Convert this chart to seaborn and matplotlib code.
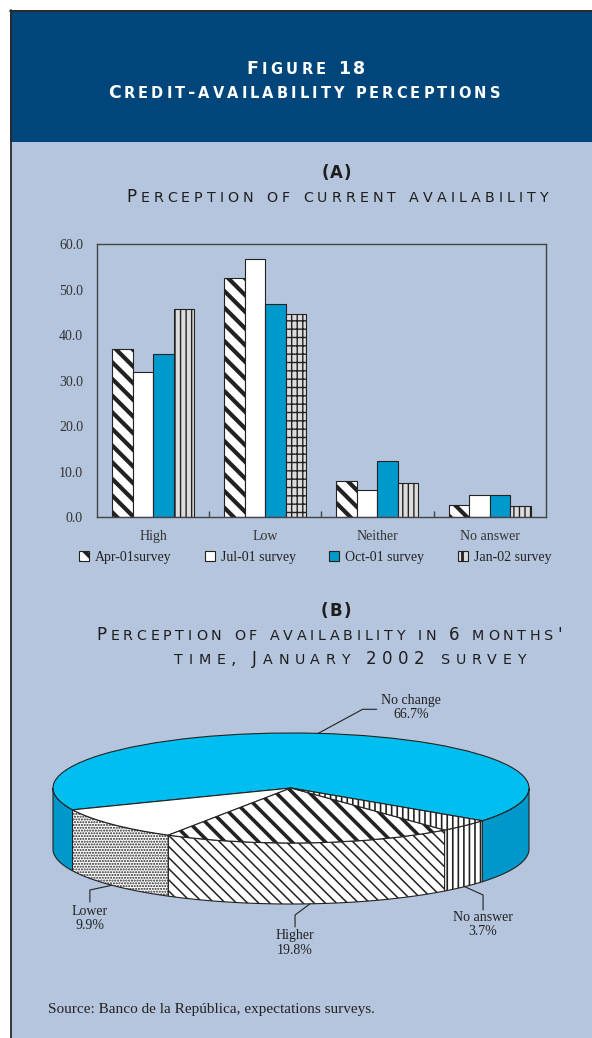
import numpy as np
import pandas as pd
import matplotlib
matplotlib.use("Agg")
import matplotlib.pyplot as plt
from matplotlib.patches import Rectangle, Polygon, Patch
from matplotlib.lines import Line2D
import seaborn as sns

# ---- data -------------------------------------------------------------
answers = ["High", "Low", "Neither", "No answer"]
surveys = ["Apr-01survey", "Jul-01 survey", "Oct-01 survey", "Jan-02 survey"]
apr_01 = [36.9, 52.7, 7.9, 2.6]
jul_01 = [32.0, 56.8, 6.1, 4.9]
oct_01 = [35.9, 46.8, 12.3, 4.9]
jan_02 = [45.7, 44.6, 7.5, 2.4]
y_ticks = [0, 10, 20, 30, 40, 50, 60]

outlook_labels = ["No change", "Lower", "Higher", "No answer"]
outlook_values = [66.7, 9.9, 19.8, 3.7]

# ---- styling ----------------------------------------------------------
BODY = "#B5C5DD"
HEADER = "#00467A"
INK = "#1E1E1E"
bar_face = ["white", "white", "#0099CC", "#DCDCDC"]
bar_hatch = ["\\\\", "", "", "|||"]
bar_hatch_lw = [3.0, 1.0, 1.0, 1.0]

pie_top_face = ["#00BFF0", "white", "white", "white"]
pie_top_hatch = [None, None, "\\\\", "|||"]
pie_top_hlw = [1.0, 1.0, 2.6, 1.2]
pie_side_face = ["#0098CB", "white", "white", "white"]
pie_side_hatch = [None, "......", "\\\\\\", "|||"]
pie_side_hlw = [1.0, 1.0, 1.1, 1.2]

sns.set_theme(style="white")
plt.rcParams["font.family"] = ["Liberation Serif", "DejaVu Serif"]
plt.rcParams["hatch.linewidth"] = 1.0

W, H = 592, 1038
fig = plt.figure(figsize=(W / 100, H / 100), dpi=100, facecolor="white")


def fx(px):
    return px / W


def fy(py):
    return 1 - py / H


def set_hlw(artist, lw):
    if hasattr(artist, "set_hatch_linewidth"):
        artist.set_hatch_linewidth(lw)


# ---- page frame ------------------------------------------------------
fig.add_artist(Rectangle((fx(10), 0), 1 - fx(10), fy(10), transform=fig.transFigure,
                         facecolor=BODY, edgecolor="none", zorder=-10))
fig.add_artist(Rectangle((fx(10), fy(142)), 1 - fx(10), fy(10) - fy(142),
                         transform=fig.transFigure, facecolor=HEADER,
                         edgecolor="none", zorder=-9))
fig.add_artist(Line2D([fx(10.5), fx(10.5)], [0, fy(10)], transform=fig.transFigure,
                      color="#2A2A2A", lw=1.3, zorder=-8))
fig.add_artist(Line2D([fx(10), 1], [fy(10.5), fy(10.5)], transform=fig.transFigure,
                      color="#2A2A2A", lw=1.3, zorder=-8))


def spaced_caps(text, cx, base_py, width_px, big, small, color, weight="normal"):
    """Small-caps line with even letter tracking across a given width."""
    rend = fig.canvas.get_renderer()
    glyphs = []
    for ch in text:
        if ch == " ":
            glyphs.append((None, big * 100 / 72 * 0.3))
            continue
        size = small if ch.islower() else big
        t = fig.text(0, 0, ch.upper(), fontsize=size, color=color,
                     fontweight=weight, family="DejaVu Sans",
                     ha="left", va="baseline")
        glyphs.append((t, t.get_window_extent(rend).width))
    ink = sum(w for _, w in glyphs)
    track = (width_px - ink) / max(len(glyphs) - 1, 1)
    x = cx - width_px / 2
    for t, w in glyphs:
        if t is not None:
            t.set_position((fx(x), fy(base_py)))
        x += w + track


spaced_caps("Figure 18", 306, 74, 119, 12.5, 10.5, "white", "bold")
spaced_caps("Credit-availability perceptions", 304, 97.5, 392, 12.5, 10.5, "white", "bold")
spaced_caps("(A)", 336.7, 178, 30, 12, 9.5, INK, "bold")
spaced_caps("Perception of current availability", 337, 202, 422, 12, 10.3, INK)
spaced_caps("(B)", 336, 616, 30, 12, 9.5, INK, "bold")
spaced_caps("Perception of availability in 6 months'", 329, 640.5, 465, 12, 10.3, INK)
spaced_caps("time, January 2002 survey", 350, 664.5, 351, 12, 10.3, INK)

# ---- panel A: grouped bars ------------------------------------------
ax = fig.add_axes([fx(97), fy(517.3), fx(545.7) - fx(97), (517.3 - 244.3) / H])
ax.set_facecolor("none")
df = pd.DataFrame({
    "answer": answers * 4,
    "survey": np.repeat(surveys, len(answers)),
    "pct": apr_01 + jul_01 + oct_01 + jan_02,
})
sns.barplot(data=df, x="answer", y="pct", hue="survey", order=answers,
            hue_order=surveys, palette=dict(zip(surveys, bar_face)),
            width=0.73, saturation=1, edgecolor="#222222", linewidth=0.8,
            errorbar=None, legend=False, ax=ax)
for cont, hatch, hlw in zip(ax.containers, bar_hatch, bar_hatch_lw):
    for bar in cont:
        bar.set_hatch(hatch)
        set_hlw(bar, hlw)
# the Jan-02 "Low" bar carries a cross-ruled fill
ax.containers[3][1].set_hatch("|||--")

ax.set_xlim(-0.5, 3.5)
ax.set_ylim(0, 60)
ax.set_yticks(y_ticks)
ax.set_yticklabels([f"{v:.1f}" for v in y_ticks])
ax.set_xlabel("")
ax.set_ylabel("")
for sp in ax.spines.values():
    sp.set_visible(True)
    sp.set_color("#444444")
    sp.set_linewidth(1.0)
ax.tick_params(axis="y", length=0, pad=10, labelsize=10, labelcolor="#333333")
ax.tick_params(axis="x", which="major", length=0, pad=9, labelsize=10,
               labelcolor="#333333")
ax.set_xticks([0.5, 1.5, 2.5], minor=True)
ax.tick_params(axis="x", which="minor", direction="in", length=4, width=1,
               color="#444444", bottom=True)

leg_hatch = ["\\\\", "", "", "||"]
handles = [Patch(facecolor=c, edgecolor="#222222", hatch=h, linewidth=0.8)
           for c, h in zip(bar_face, leg_hatch)]
leg = fig.legend(handles, surveys, loc="center left",
                 bbox_to_anchor=(fx(79), fy(557)), ncol=4, frameon=False,
                 fontsize=10, handlelength=0.7, handleheight=0.7,
                 handletextpad=0.45, columnspacing=2.4, borderpad=0,
                 borderaxespad=0, labelcolor="#222222")
for hnd, hlw in zip(leg.legend_handles, [3.0, 1.0, 1.0, 2.0]):
    set_hlw(hnd, hlw)

# ---- panel B: tilted pie --------------------------------------------
CX, CY, RX, RY = 291, 788, 238, 55  # pixel centre and radii of the top face
XL, YL = (-1.2, 1.2), (-2.6, 1.9)
depth = 61 / RY
pax = fig.add_axes([fx(CX + XL[0] * RX), fy(CY - YL[0] * RY),
                    (XL[1] - XL[0]) * RX / W, (YL[1] - YL[0]) * RY / H])
wedges, _ = pax.pie(outlook_values, colors=pie_top_face, startangle=-36.5,
                    counterclock=True,
                    wedgeprops=dict(edgecolor="#222222", linewidth=0.8))
for w, h, hlw in zip(wedges, pie_top_hatch, pie_top_hlw):
    if h:
        w.set_hatch(h)
        set_hlw(w, hlw)
pax.set_aspect("auto")
pax.set_xlim(*XL)
pax.set_ylim(*YL)
pax.axis("off")


def front_spans(t1, t2):
    spans = []
    for k in (-360, 0, 360):
        a, b = max(t1 + k, 180), min(t2 + k, 360)
        if b > a:
            spans.append((a, b))
    return spans


# side walls of the visible (front) half
for w, fc, h, hlw in zip(wedges, pie_side_face, pie_side_hatch, pie_side_hlw):
    for a, b in front_spans(w.theta1, w.theta2):
        t = np.radians(np.linspace(a, b, 80))
        top = np.column_stack([np.cos(t), np.sin(t)])
        bot = np.column_stack([np.cos(t), np.sin(t) - depth])[::-1]
        poly = Polygon(np.vstack([top, bot]), closed=True, facecolor=fc,
                       edgecolor="#222222", lw=0.8, hatch=h, zorder=0.5)
        set_hlw(poly, hlw)
        pax.add_patch(poly)

# leader lines and labels: (elbow, end of line, text anchor, vertical align)
label_layout = [
    ((0.301, 1.431), (0.36, 1.431), (0.505, 1.464), "center"),
    ((-0.845, -1.855), (-0.845, -2.073), (-0.845, -2.127), "top"),
    ((0.017, -2.309), (0.017, -2.527), (0.017, -2.564), "top"),
    ((0.807, -1.945), (0.807, -2.218), (0.807, -2.236), "top"),
]
for w, name, val, (elbow, end, txt, va) in zip(wedges, outlook_labels,
                                              outlook_values, label_layout):
    mid = np.radians((w.theta1 + w.theta2) / 2)
    sx, sy = np.cos(mid), np.sin(mid)
    if sy < 0:
        sy -= depth
    pax.plot([sx, elbow[0], end[0]], [sy, elbow[1], end[1]], color="#222222",
             lw=0.8, clip_on=False, zorder=3)
    pax.text(txt[0], txt[1], f"{name}\n{val:.1f}%", ha="center", va=va,
             fontsize=10, color="#222222", linespacing=1.15, clip_on=False)

fig.text(fx(48), fy(1010), "Source: Banco de la República, expectations surveys.",
         fontsize=11, color="#222222", ha="left", va="center")

fig.savefig("out.png", dpi=100, facecolor="white")
